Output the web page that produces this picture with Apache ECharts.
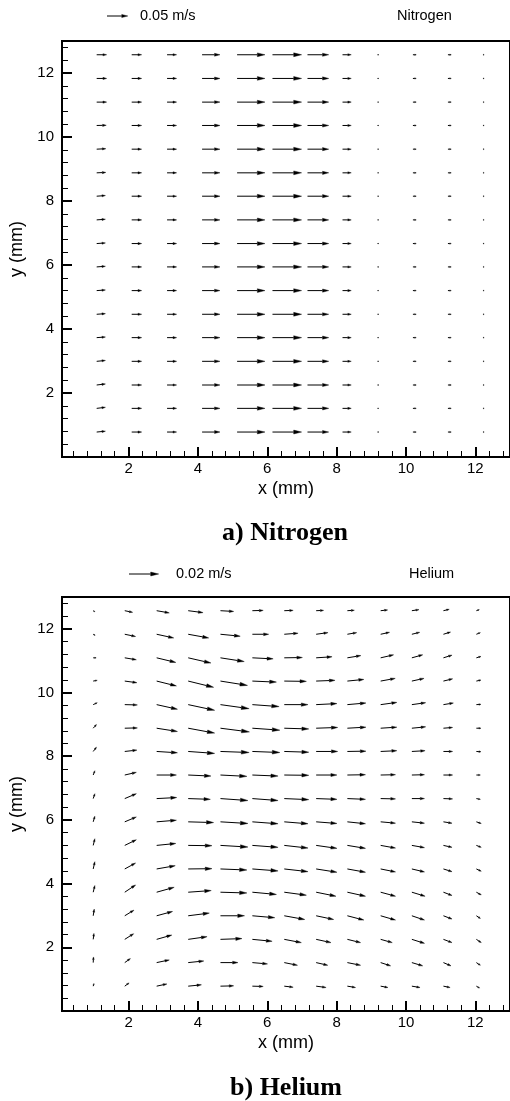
<!DOCTYPE html>
<html lang="en">
<head>
    <meta charset="UTF-8">
    <title>Velocity fields</title>
    <script src="https://cdn.jsdelivr.net/npm/echarts@6/dist/echarts.min.js"></script>
    <style>html,body{margin:0;padding:0;background:#fff}</style>
</head>
<body>
    <div id="ec" style="width:510px;height:1101px"></div>
</body>
<script>
    // measurement rows (mm), top to bottom, shared by both fields
    var rowY = [12.57, 11.83, 11.09, 10.36, 9.62, 8.88, 8.15, 7.41, 6.67, 5.94, 5.20, 4.46, 3.73, 2.99, 2.25, 1.52, 0.78]
    var nitrogenX = [1.08, 2.09, 3.11, 4.12, 5.13, 6.15, 7.16, 8.17, 9.18, 10.2, 11.21, 12.22]
    var heliumX = [0.98, 1.89, 2.81, 3.72, 4.65, 5.57, 6.49, 7.41, 8.31, 9.27, 10.17, 11.08, 12.03]

    // velocity components in mm/s, one row per entry of rowY
    var nitrogenU = [
        [24, 24, 23, 43, 67, 70, 51, 21, 2, 8, 8, 2],
        [24, 24, 23, 43, 67, 70, 51, 21, 2, 8, 8, 2],
        [24, 24, 23, 43, 67, 70, 51, 21, 2, 8, 8, 2],
        [23, 24, 23, 43, 67, 70, 51, 21, 2, 8, 8, 2],
        [22, 24, 23, 43, 67, 70, 51, 21, 2, 8, 8, 2],
        [22, 24, 23, 43, 67, 70, 51, 21, 2, 8, 8, 2],
        [21, 24, 23, 43, 67, 70, 51, 21, 2, 8, 8, 2],
        [21, 24, 23, 43, 67, 70, 51, 21, 2, 8, 8, 2],
        [21, 24, 23, 43, 67, 70, 51, 21, 2, 8, 8, 2],
        [21, 24, 23, 43, 67, 70, 51, 21, 2, 8, 8, 2],
        [21, 24, 23, 43, 67, 70, 51, 21, 2, 8, 8, 2],
        [21, 24, 23, 43, 67, 70, 51, 21, 2, 8, 8, 2],
        [21, 24, 23, 43, 67, 70, 51, 21, 2, 8, 8, 2],
        [21, 24, 23, 43, 67, 70, 51, 21, 2, 8, 8, 2],
        [21, 24, 23, 43, 67, 70, 51, 21, 2, 8, 8, 2],
        [21, 24, 23, 43, 67, 70, 51, 21, 2, 8, 8, 2],
        [21, 24, 23, 43, 67, 70, 51, 21, 2, 8, 8, 2]
    ]
    var nitrogenV = [
        [0, 0, 0, 0, 0, 0, 0, 0, 0, 0, 0, 0],
        [0, 0, 0, 0, 0, 0, 0, 0, 0, 0, 0, 0],
        [0, 0, 0, 0, 0, 0, 0, 0, 0, 0, 0, 0],
        [0.5, 0, 0, 0, 0, 0, 0, 0, 0, 0, 0, 0],
        [1, 0, 0, 0, 0, 0, 0, 0, 0, 0, 0, 0],
        [1, 0, 0, 0, 0, 0, 0, 0, 0, 0, 0, 0],
        [1.5, 0, 0, 0, 0, 0, 0, 0, 0, 0, 0, 0],
        [1.5, 0, 0, 0, 0, 0, 0, 0, 0, 0, 0, 0],
        [1.5, 0, 0, 0, 0, 0, 0, 0, 0, 0, 0, 0],
        [1.5, 0, 0, 0, 0, 0, 0, 0, 0, 0, 0, 0],
        [1.5, 0, 0, 0, 0, 0, 0, 0, 0, 0, 0, 0],
        [1.5, 0, 0, 0, 0, 0, 0, 0, 0, 0, 0, 0],
        [1.5, 0, 0, 0, 0, 0, 0, 0, 0, 0, 0, 0],
        [2, 0, 0, 0, 0, 0, 0, 0, 0, 0, 0, 0],
        [2.5, 0, 0, 0, 0, 0, 0, 0, 0, 0, 0, 0],
        [2.5, 0, 0, 0, 0, 0, 0, 0, 0, 0, 0, 0],
        [2, 0, 0, 0, 0, 0, 0, 0, 0, 0, 0, 0]
    ]
    var heliumU = [
        [1.1, 5.3, 8.5, 10.0, 8.9, 7.3, 6.0, 5.0, 4.7, 4.7, 4.8, 3.9, 2.0],
        [1.3, 7.3, 11.5, 13.8, 13.3, 11.0, 9.3, 8.0, 6.3, 6.0, 5.3, 4.8, 2.7],
        [2.0, 7.8, 12.9, 15.3, 16.0, 14.0, 12.2, 10.7, 9.1, 8.7, 7.3, 5.8, 3.1],
        [2.7, 8.2, 13.3, 17.1, 18.2, 16.2, 14.9, 12.7, 11.1, 9.8, 8.2, 6.2, 3.1],
        [2.7, 8.5, 14.0, 17.8, 19.3, 18.0, 16.0, 14.0, 12.5, 10.9, 9.3, 6.7, 3.1],
        [2.2, 8.5, 14.0, 17.8, 19.5, 18.5, 16.5, 14.5, 12.5, 10.9, 9.3, 6.2, 3.1],
        [2.2, 8.2, 14.0, 17.8, 19.3, 18.5, 16.5, 14.5, 12.5, 10.9, 8.9, 6.2, 3.1],
        [1.1, 7.8, 13.3, 15.3, 17.8, 17.3, 16.5, 14.0, 12.2, 10.0, 8.5, 6.2, 2.7],
        [1.1, 7.8, 13.5, 14.9, 18.5, 17.3, 16.5, 14.0, 12.2, 10.0, 8.5, 6.2, 2.7],
        [1.1, 7.8, 13.3, 17.1, 18.5, 17.3, 16.0, 14.0, 12.2, 10.0, 8.5, 5.8, 3.3],
        [1.1, 7.8, 12.9, 16.0, 18.5, 17.3, 16.0, 14.0, 12.2, 10.0, 8.5, 5.8, 3.3],
        [1.1, 7.3, 12.5, 16.0, 17.8, 17.3, 16.0, 14.0, 12.2, 10.0, 8.5, 5.8, 3.3],
        [1.1, 7.3, 11.8, 15.5, 17.8, 16.2, 14.9, 13.3, 12.2, 10.0, 8.9, 5.8, 3.3],
        [0.7, 6.2, 10.7, 14.2, 16.2, 15.1, 13.8, 11.8, 11.1, 10.0, 8.5, 5.8, 2.7],
        [0.5, 6.0, 10.2, 12.7, 14.5, 13.3, 11.5, 10.0, 8.9, 7.8, 8.5, 5.8, 3.3],
        [0.2, 3.8, 8.5, 10.5, 11.8, 10.2, 8.9, 7.8, 8.9, 6.7, 7.3, 5.1, 2.7],
        [0.5, 2.9, 6.9, 8.9, 8.9, 7.3, 6.0, 6.7, 5.5, 4.9, 5.5, 4.5, 2.2]
    ]
    var heliumV = [
        [-0.7, -1.1, -1.5, -1.3, -0.5, 0.2, 0.2, 0.2, 0.3, 0.5, 0.7, 0.9, 0.7],
        [-0.7, -1.5, -2.5, -2.5, -1.3, 0, 0.7, 1.1, 1.1, 1.3, 1.3, 1.5, 1.1],
        [0, -1.3, -3.1, -3.5, -2.5, -0.7, 0.2, 0.7, 1.5, 2.0, 2.0, 1.8, 0.9],
        [0.5, -1.1, -3.3, -4.2, -2.9, -0.7, -0.2, 0.5, 1.1, 1.8, 1.8, 1.5, 0.7],
        [1.3, -0.2, -3.1, -3.8, -2.7, -1.3, 0, 0.7, 1.1, 1.5, 1.3, 1.1, 0.2],
        [2.5, 0.2, -2.2, -3.3, -2.5, -1.3, -0.5, 0.5, 0.7, 0.7, 0.9, 0.5, 0],
        [2.9, 0.9, -0.9, -1.3, -0.7, -0.7, -0.5, 0, 0.2, 0.5, 0.5, 0, -0.2],
        [2.9, 1.8, 0, -0.7, -0.9, -0.7, -0.2, 0, 0.2, 0.2, 0.2, 0, 0],
        [3.3, 3.3, 0.7, -0.5, -1.3, -1.3, -0.7, -0.5, -0.5, -0.2, 0, -0.2, -0.5],
        [3.8, 3.3, 1.1, -0.5, -1.1, -1.3, -1.3, -1.1, -1.3, -0.9, -0.9, -0.9, -1.1],
        [4.5, 3.8, 1.3, -0.2, -1.1, -1.3, -1.8, -2.0, -2.0, -1.8, -1.5, -1.3, -1.3],
        [4.9, 4.0, 2.2, 0.2, -0.7, -1.3, -1.8, -2.2, -2.2, -2.0, -2.0, -1.8, -1.5],
        [4.5, 4.9, 3.3, 1.1, -0.5, -1.5, -2.0, -2.7, -2.7, -2.7, -2.7, -2.2, -1.8],
        [4.5, 3.8, 2.9, 1.8, 0, -1.3, -2.5, -2.5, -2.9, -2.9, -2.9, -2.2, -1.8],
        [4.0, 3.8, 2.9, 1.8, 0.5, -1.3, -2.2, -2.2, -2.2, -2.2, -2.7, -2.2, -2.2],
        [3.8, 2.7, 1.8, 1.1, 0, -0.9, -1.8, -1.8, -1.8, -2.2, -2.2, -2.2, -1.8],
        [1.8, 2.2, 1.5, 0.9, 0.2, -0.2, -0.7, -0.9, -0.9, -0.9, -0.9, -0.9, -1.3]
    ]

    var majorTicks = [2, 4, 6, 8, 10, 12]
    var minorTicks = [0.4, 0.8, 1.2, 1.6, 2.4, 2.8, 3.2, 3.6, 4.4, 4.8, 5.2, 5.6, 6.4, 6.8, 7.2, 7.6,
        8.4, 8.8, 9.2, 9.6, 10.4, 10.8, 11.2, 11.6, 12.4, 12.8]

    // reference vectors: speed in mm/s and its drawn length in x-axis mm
    var nitrogenRef = {speed: 50, label: '0.05 m/s', len: 0.6}
    var heliumRef = {speed: 20, label: '0.02 m/s', len: 0.857}

    function toItems(xs, us, vs) {
        var out = []
        for (var r = 0; r < rowY.length; r++) {
            for (var c = 0; c < xs.length; c++) {
                out.push([xs[c], rowY[r], us[r][c], vs[r][c]])
            }
        }
        return out
    }

    function arrow(x0, y0, dx, dy) {
        var len = Math.sqrt(dx * dx + dy * dy)
        if (len < 1.2) {
            if (len === 0) { dx = 1; dy = 0; len = 1 }
            var s = 1.2 / len
            dx *= s; dy *= s; len = 1.2
        }
        var ux = dx / len, uy = dy / len
        var hl = Math.min(len * 0.45, 1.5 + 0.22 * len)
        var hw = 0.2 * hl + 0.35
        var bx = x0 + dx - ux * hl, by = y0 + dy - uy * hl
        return {
            type: 'group',
            children: [
                {type: 'line', shape: {x1: x0, y1: y0, x2: bx, y2: by},
                    style: {stroke: '#000', lineWidth: 1}},
                {type: 'polygon', shape: {points: [[x0 + dx, y0 + dy], [bx - uy * hw, by + ux * hw], [bx + uy * hw, by - ux * hw]]},
                    style: {fill: '#000', stroke: '#000', lineWidth: 0.4}}
            ]
        }
    }

    function vectorRender(ref) {
        return function(params, api) {
            var p = api.coord([api.value(0), api.value(1)])
            var k = api.size([ref.len, 0])[0] / ref.speed
            return arrow(p[0], p[1], api.value(2) * k, -api.value(3) * k)
        }
    }

    function keyRender(ref, pos) {
        return function(params, api) {
            var L = api.size([ref.len, 0])[0]
            return arrow(pos[0], pos[1], L, 0)
        }
    }

    var font = 'Liberation Sans, Arial, sans-serif'
    var grids = [
        {left: 62, top: 41, width: 452.2, height: 416},
        {left: 62, top: 597, width: 452.2, height: 414}
    ]
    var xAxes = [], yAxes = []
    grids.forEach(function(g, i) {
        g.show = true
        g.borderColor = '#000'
        g.borderWidth = 2
        xAxes.push({
            gridIndex: i, type: 'value', min: 0.08, max: 13, position: 'bottom',
            axisLine: {onZero: false, lineStyle: {color: '#000', width: 2}},
            axisTick: {inside: true, length: 10, customValues: majorTicks, lineStyle: {color: '#000', width: 2}},
            axisLabel: {customValues: majorTicks, color: '#000', fontSize: 15, fontFamily: font, margin: 4},
            splitLine: {show: false},
            name: 'x (mm)', nameLocation: 'middle', nameGap: 23,
            nameTextStyle: {color: '#000', fontSize: 18, fontFamily: font}
        })
        xAxes.push({
            gridIndex: i, type: 'value', min: 0.08, max: 13, position: 'bottom',
            axisLine: {show: false},
            axisTick: {inside: true, length: 6, customValues: minorTicks, lineStyle: {color: '#000', width: 1}},
            axisLabel: {show: false},
            splitLine: {show: false}
        })
        yAxes.push({
            gridIndex: i, type: 'value', min: 0, max: 13, position: 'left',
            axisLine: {onZero: false, lineStyle: {color: '#000', width: 2}},
            axisTick: {inside: true, length: 10, customValues: majorTicks, lineStyle: {color: '#000', width: 2}},
            axisLabel: {customValues: majorTicks, color: '#000', fontSize: 15, fontFamily: font, margin: 8},
            splitLine: {show: false},
            name: 'y (mm)', nameLocation: 'middle', nameGap: 32,
            nameTextStyle: {color: '#000', fontSize: 18, fontFamily: font}
        })
        yAxes.push({
            gridIndex: i, type: 'value', min: 0, max: 13, position: 'left',
            axisLine: {show: false},
            axisTick: {inside: true, length: 6, customValues: minorTicks, lineStyle: {color: '#000', width: 1}},
            axisLabel: {show: false},
            splitLine: {show: false}
        })
    })

    var legendText = {fill: '#000', fontSize: 14.5, fontFamily: font, verticalAlign: 'middle'}
    var captionText = {fill: '#000', fontSize: 26, fontWeight: 'bold', fontFamily: 'Liberation Serif, Times New Roman, serif',
        align: 'center', verticalAlign: 'middle'}

    var ech = document.getElementById('ec')
    var mychart = echarts.init(ech, null, {renderer: 'canvas'})
    var options = {
        animation: false,
        backgroundColor: '#fff',
        grid: grids,
        xAxis: xAxes,
        yAxis: yAxes,
        graphic: [
            {type: 'text', left: 140, top: 8, style: Object.assign({text: nitrogenRef.label}, legendText)},
            {type: 'text', left: 397, top: 8, style: Object.assign({text: 'Nitrogen'}, legendText)},
            {type: 'text', left: 176, top: 566, style: Object.assign({text: heliumRef.label}, legendText)},
            {type: 'text', left: 409, top: 566, style: Object.assign({text: 'Helium'}, legendText)},
            {type: 'text', x: 285, y: 533, style: Object.assign({text: 'a) Nitrogen'}, captionText)},
            {type: 'text', x: 286, y: 1088, style: Object.assign({text: 'b) Helium'}, captionText)}
        ],
        series: [
            {type: 'custom', name: 'Nitrogen', xAxisIndex: 0, yAxisIndex: 0, clip: false,
                renderItem: vectorRender(nitrogenRef), data: toItems(nitrogenX, nitrogenU, nitrogenV)},
            {type: 'custom', name: 'Helium', xAxisIndex: 2, yAxisIndex: 2, clip: false,
                renderItem: vectorRender(heliumRef), data: toItems(heliumX, heliumU, heliumV)},
            {type: 'custom', name: 'Nitrogen key', xAxisIndex: 0, yAxisIndex: 0, clip: false,
                renderItem: keyRender(nitrogenRef, [107, 16]), data: [[0, 0]]},
            {type: 'custom', name: 'Helium key', xAxisIndex: 2, yAxisIndex: 2, clip: false,
                renderItem: keyRender(heliumRef, [129, 574]), data: [[0, 0]]}
        ]
    }
    mychart.setOption(options)
</script>
</html>
